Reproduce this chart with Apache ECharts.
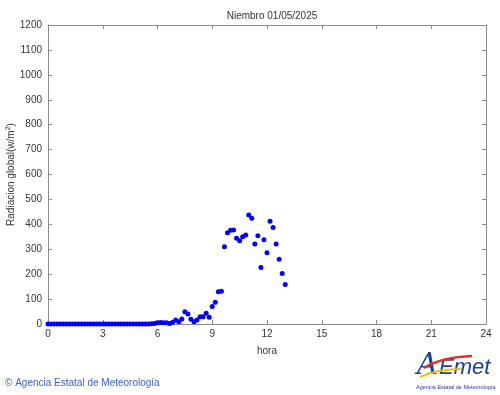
<!DOCTYPE html>
<html>
<head>
<meta charset="utf-8">
<script src="https://cdn.jsdelivr.net/npm/echarts@6/dist/echarts.min.js"></script>
<style>
  html, body { margin: 0; padding: 0; background: #fff; }
  #chart { width: 500px; height: 395px; }
</style>
</head>
<body>
<div id="chart"></div>
<script>
// hora (10 min steps)
var horas = [
  "00:00","00:10","00:20","00:30","00:40","00:50",
  "01:00","01:10","01:20","01:30","01:40","01:50",
  "02:00","02:10","02:20","02:30","02:40","02:50",
  "03:00","03:10","03:20","03:30","03:40","03:50",
  "04:00","04:10","04:20","04:30","04:40","04:50",
  "05:00","05:10","05:20","05:30","05:40","05:50",
  "06:00","06:10","06:20","06:30","06:40","06:50",
  "07:00","07:10","07:20","07:30","07:40","07:50",
  "08:00","08:10","08:20","08:30","08:40","08:50",
  "09:00","09:10","09:20","09:30","09:40","09:50",
  "10:00","10:10","10:20","10:30","10:40","10:50",
  "11:00","11:10","11:20","11:30","11:40","11:50",
  "12:00","12:10","12:20","12:30","12:40","12:50",
  "13:00"
];
// radiacion global (w/m2)
var radiacion = [
  0, 0, 0, 0, 0, 0,
  0, 0, 0, 0, 0, 0,
  0, 0, 0, 0, 0, 0,
  0, 0, 0, 0, 0, 0,
  0, 0, 0, 0, 0, 0,
  0, 0, 0, 0, 1, 2,
  5, 6, 5, 5, 2, 7,
  16, 9, 20, 49, 40, 19,
  9, 16, 29, 29, 43, 27,
  70, 87, 129, 131, 310, 366,
  376, 377, 344, 334, 350, 357,
  437, 424, 321, 354, 227, 338,
  286, 412, 387, 321, 260, 203,
  159
];
var xTicks = [0, 3, 6, 9, 12, 15, 18, 21, 24];
var titulo = "Niembro 01/05/2025";

var puntos = horas.map(function (h, i) {
  var p = h.split(":");
  return [parseInt(p[0], 10) + parseInt(p[1], 10) / 60, radiacion[i]];
});

var font = "Liberation Sans, Arial, sans-serif";
var gris = "#8a8a8a";
var texto = "#333";

var chart = echarts.init(document.getElementById("chart"));

var baseX = {
  type: "value",
  min: xTicks[0],
  max: xTicks[xTicks.length - 1],
  interval: 3,
  splitLine: { show: false },
  axisLine: { show: true, onZero: false, lineStyle: { color: gris, width: 1 } },
  axisTick: { show: true, inside: true, length: 4, lineStyle: { color: gris } }
};
var baseY = {
  type: "value",
  min: 0,
  max: 1200,
  interval: 100,
  splitLine: { show: false },
  axisLine: { show: true, onZero: false, lineStyle: { color: gris, width: 1 } },
  axisTick: { show: true, inside: true, length: 4, lineStyle: { color: gris } }
};

chart.setOption({
  animation: false,
  backgroundColor: "#fff",
  title: {
    text: titulo,
    left: 267,
    top: 6,
    textAlign: "center",
    textStyle: { fontSize: 10, fontWeight: "normal", color: texto, fontFamily: font }
  },
  grid: { left: 48, right: 14, top: 25, bottom: 71, containLabel: false, outerBoundsMode: "none" },
  xAxis: [
    Object.assign({}, baseX, {
      position: "bottom",
      name: "hora",
      nameLocation: "middle",
      nameGap: 22,
      nameMoveOverlap: false,
      nameTextStyle: { fontSize: 10, color: texto, fontFamily: font },
      axisLabel: { fontSize: 10, color: texto, margin: 5, fontFamily: font }
    }),
    Object.assign({}, baseX, { position: "top", axisLabel: { show: false } })
  ],
  yAxis: [
    Object.assign({}, baseY, {
      position: "left",
      name: "Radiacion global(w/m{s|2})",
      nameLocation: "middle",
      nameGap: 31,
      nameRotate: 90,
      nameMoveOverlap: false,
      nameTextStyle: {
        fontSize: 10, color: texto, fontFamily: font,
        rich: { s: { fontSize: 7, color: texto, fontFamily: font, verticalAlign: "top", padding: [0, 0, 5, 0] } }
      },
      axisLabel: {
        fontSize: 10, color: texto, margin: 6, fontFamily: font,
        formatter: function (v) { return String(v); }
      }
    }),
    Object.assign({}, baseY, { position: "right", axisLabel: { show: false } })
  ],
  series: [
    {
      type: "scatter",
      xAxisIndex: 0,
      yAxisIndex: 0,
      symbol: "circle",
      symbolSize: 5,
      itemStyle: { color: "#0000ff", opacity: 1 },
      data: puntos
    }
  ],
  graphic: [
    {
      type: "text",
      left: 5,
      top: 378,
      style: {
        text: "© Agencia Estatal de Meteorología",
        fill: "#3b5fd6",
        font: "10px " + font
      }
    },
    // logo AEMET
    {
      type: "text",
      left: 417,
      top: 352,
      style: { text: "A", fill: "#1b3f9c", font: "italic 29px DejaVu Serif, serif" }
    },
    {
      type: "text",
      left: 439,
      top: 357,
      style: { text: "Emet", fill: "#1b3f9c", font: "italic 22px Liberation Sans, sans-serif" }
    },
    {
      type: "bezierCurve",
      shape: { x1: 424, y1: 368, x2: 472, y2: 356, cpx1: 442, cpy1: 357 },
      style: { stroke: "#e03020", lineWidth: 2.5, fill: null }
    },
    {
      type: "bezierCurve",
      shape: { x1: 420, y1: 377, x2: 462, y2: 369, cpx1: 438, cpy1: 369 },
      style: { stroke: "#f2c200", lineWidth: 2, fill: null }
    },
    {
      type: "text",
      left: 416,
      top: 384,
      style: { text: "Agencia Estatal de Meteorología", fill: "#1b3f9c", font: "5.5px " + font }
    }
  ]
});
</script>
</body>
</html>
